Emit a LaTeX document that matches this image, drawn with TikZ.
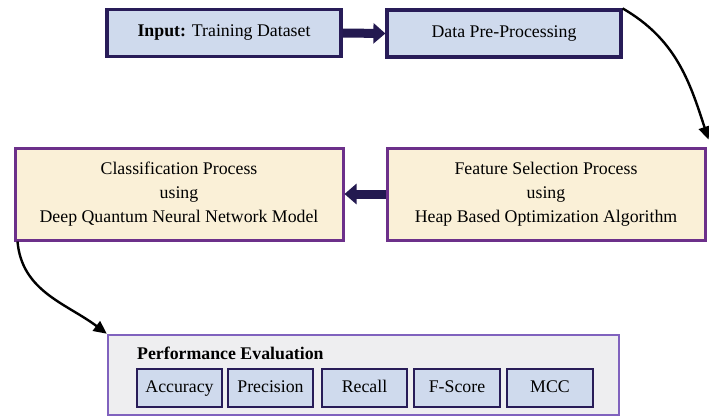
\documentclass[tikz,border=0pt]{standalone}
\usepackage{fontspec}
\setmainfont{Liberation Serif}
\usetikzlibrary{arrows.meta}
\definecolor{bluefill}{RGB}{207,218,237}
\definecolor{navyline}{RGB}{40,28,88}
\definecolor{beigefill}{RGB}{250,240,215}
\definecolor{purpleline}{RGB}{108,48,138}
\definecolor{grayfill}{RGB}{238,238,240}
\definecolor{lavline}{RGB}{128,98,190}
\definecolor{arrownavy}{RGB}{35,25,80}
\tikzset{
  topbox/.style={draw=navyline, line width=3.2pt, fill=bluefill, minimum width=234pt, minimum height=47pt, inner sep=0pt},
  midbox/.style={draw=purpleline, line width=3pt, fill=beigefill, minimum height=92pt, inner sep=0pt, align=center, font=\fontsize{17.8}{24}\selectfont},
  perfbox/.style={draw=lavline, line width=2.6pt, fill=grayfill, minimum width=511pt, minimum height=80pt, inner sep=0pt},
  metric/.style={draw=navyline, line width=2.6pt, fill=bluefill, minimum height=38pt, inner sep=0pt, text height=12.5pt, text depth=4pt},
  fatarrow/.style={draw=arrownavy, line width=9pt, -{Triangle[length=12pt,width=20pt]}},
  curvearrow/.style={draw=black, line width=2.4pt, -{Triangle[length=13pt,width=12pt]}},
}
\begin{document}
\begin{tikzpicture}[x=1pt,y=-1pt,font=\fontsize{17.8}{21}\selectfont]
\useasboundingbox (0,0) rectangle (709,418);
\node[topbox] (input) at (224,33) {\textbf{Input:} Training Dataset};
\node[topbox] (prep) at (504,33.5) {Data Pre-Processing};
\node[midbox, minimum width=318pt] (feat) at (546,194) {Feature Selection Process\\using\\Heap Based Optimization Algorithm};
\node[midbox, minimum width=328pt] (clas) at (179,194) {Classification Process\\using\\Deep Quantum Neural Network Model};
\node[perfbox] (perf) at (363.5,375) {};
\node[anchor=west, inner sep=0pt] (ptitle) at (137,353) {\textbf{Performance Evaluation}};
\node[metric, minimum width=85pt] (acc) at (179.5,388) {Accuracy};
\node[metric, minimum width=85pt] (prec) at (270.5,388) {Precision};
\node[metric, minimum width=85pt] (rec) at (364.5,388) {Recall};
\node[metric, minimum width=86pt] (fs) at (457,388) {F-Score};
\node[metric, minimum width=86pt] (mcc) at (550,388) {MCC};
\coordinate (tipA) at ([xshift=2pt,yshift=7pt]feat.north east);
\coordinate (startB) at ([xshift=4pt]clas.south west);
\draw[fatarrow] (input.east) -- (prep.west);
\draw[fatarrow] (feat.west) -- (clas.east);
\draw[curvearrow] (prep.north east) to[out=-30,in=108] (tipA);
\draw[curvearrow] (startB) to[out=-85,in=143] (perf.north west);
\end{tikzpicture}
\end{document}
